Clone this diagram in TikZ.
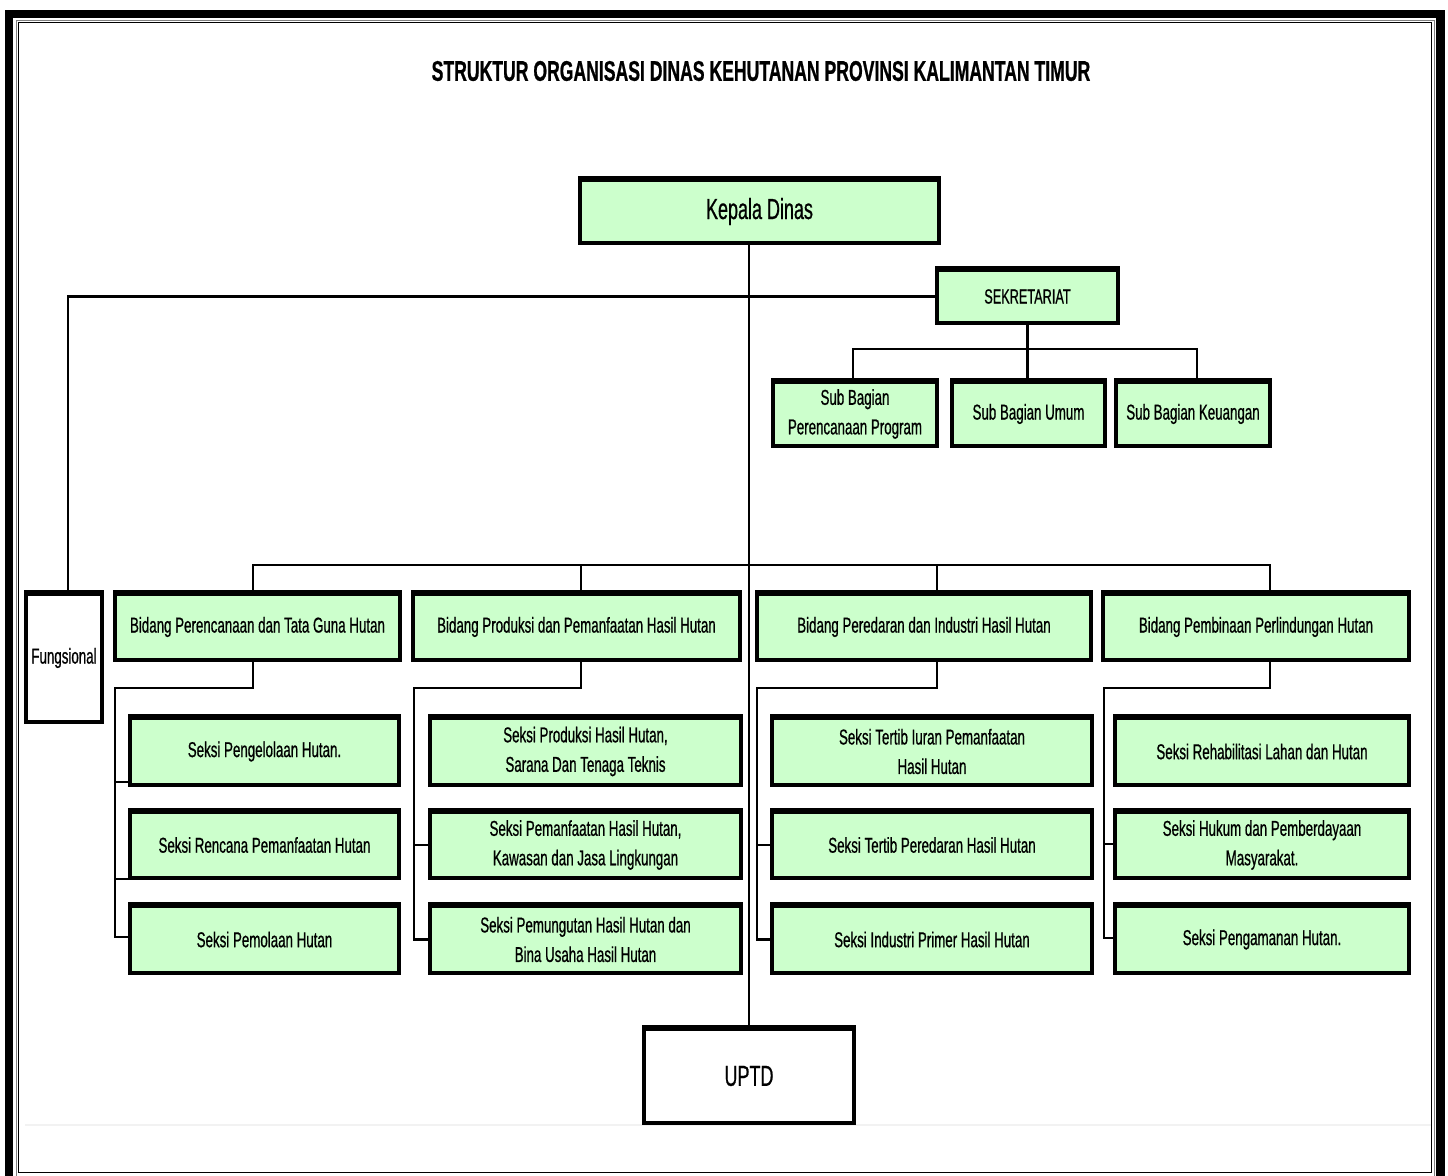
\documentclass[tikz,border=0pt]{standalone}
\usepackage{fontspec}
\setmainfont{Liberation Sans}[FakeStretch=0.62,FakeBold=0.7]
\definecolor{boxgreen}{HTML}{CCFFCC}
\begin{document}
\begin{tikzpicture}[x=1pt,y=-1pt,
  bx/.style={draw=black, line width=4, fill=boxgreen, inner sep=0, align=center,
    font=\fontsize{21.5}{29.5}\selectfont},
  wbx/.style={bx, fill=white},
  conn/.style={draw=black, line width=2.6},
  topedge/.style={line width=6.5, line cap=butt},
  ttl/.style={font=\fontsize{28.4}{31}\selectfont\bfseries, inner sep=0}]
\useasboundingbox (0,0) rectangle (1448,1175);
% frame
\draw[line width=8.5] (9,14) rectangle (1440.5,1195);
\draw[gray, line width=1] (16,20) rectangle (1434,1176);
\draw[black, line width=1.6] (18.5,22.5) rectangle (1431.5,1172.5);
\draw[black!5, line width=2] (25,1125) -- (1431,1125);
% title
\node[ttl] (title) at (761,71) {STRUKTUR ORGANISASI DINAS KEHUTANAN PROVINSI KALIMANTAN TIMUR};
% top
\node[bx, minimum width=359, minimum height=63, font=\fontsize{29}{32}\selectfont] (kd) at (759.5,211.5) {Kepala Dinas};
\node[wbx, minimum width=210, minimum height=94, font=\fontsize{29}{32}\selectfont] (uptd) at (749,1076) {UPTD};
\node[bx, minimum width=181, minimum height=53, font=\fontsize{20.5}{24}\selectfont] (sek) at (1027.5,296.5) {SEKRETARIAT};
\node[bx, minimum width=164, minimum height=64] (sb1) at (855,414) {Sub Bagian\\Perencanaan Program};
\node[bx, minimum width=153, minimum height=64] (sb2) at (1028.5,414) {Sub Bagian Umum};
\node[bx, minimum width=154, minimum height=64] (sb3) at (1193,414) {Sub Bagian Keuangan};
% bidang
\node[wbx, minimum width=76, minimum height=128] (fung) at (64,658) {Fungsional};
\node[bx, minimum width=285, minimum height=66] (b1) at (257.5,627) {Bidang Perencanaan dan Tata Guna Hutan};
\node[bx, minimum width=327, minimum height=66] (b2) at (576.5,627) {Bidang Produksi dan Pemanfaatan Hasil Hutan};
\node[bx, minimum width=334, minimum height=66] (b3) at (924,627) {Bidang Peredaran dan Industri Hasil Hutan};
\node[bx, minimum width=306, minimum height=66] (b4) at (1256,627) {Bidang Pembinaan Perlindungan Hutan};
% seksi col 1
\node[bx, minimum width=269, minimum height=67] (s11) at (264.5,751.5) {Seksi Pengelolaan Hutan.};
\node[bx, minimum width=269, minimum height=66] (s12) at (264.5,845) {Seksi Rencana Pemanfaatan Hutan};
\node[bx, minimum width=269, minimum height=67] (s13) at (264.5,939.5) {Seksi Pemolaan Hutan};
% col 2
\node[bx, minimum width=311, minimum height=67] (s21) at (585.5,751.5) {Seksi Produksi Hasil Hutan,\\Sarana Dan Tenaga Teknis};
\node[bx, minimum width=311, minimum height=66] (s22) at (585.5,845) {Seksi Pemanfaatan Hasil Hutan,\\Kawasan dan Jasa Lingkungan};
\node[bx, minimum width=311, minimum height=67] (s23) at (585.5,939.5) {Seksi Pemungutan Hasil Hutan dan\\Bina Usaha Hasil Hutan};
% col 3
\node[bx, minimum width=320, minimum height=67] (s31) at (932,751.5) {Seksi Tertib Iuran Pemanfaatan\\Hasil Hutan};
\node[bx, minimum width=320, minimum height=66] (s32) at (932,845) {Seksi Tertib Peredaran Hasil Hutan};
\node[bx, minimum width=320, minimum height=67] (s33) at (932,939.5) {Seksi Industri Primer Hasil Hutan};
% col 4
\node[bx, minimum width=294, minimum height=67] (s41) at (1262,751.5) {Seksi Rehabilitasi Lahan dan Hutan};
\node[bx, minimum width=294, minimum height=66] (s42) at (1262,845) {Seksi Hukum dan Pemberdayaan\\Masyarakat.};
\node[bx, minimum width=294, minimum height=67] (s43) at (1262,939.5) {Seksi Pengamanan Hutan.};
% thicker top edges
\foreach \n in {kd,uptd,sek,sb1,sb2,sb3,fung,b1,b2,b3,b4,s11,s12,s13,s21,s22,s23,s31,s32,s33,s41,s42,s43}
  \draw[topedge] ([yshift=-1]\n.north west) -- ([yshift=-1]\n.north east);
% coordinates
\coordinate (bus) at (749,565);
\coordinate (sbus) at (1028,349);
\coordinate (c1) at (115,688);
\coordinate (c2) at (414,688);
\coordinate (c3) at (757,688);
\coordinate (c4) at (1104,688);
% connectors
\draw[conn] (uptd.north |- kd.south) -- (uptd.north);
\draw[conn] (sek.west) -| ([xshift=4]fung.north);
\draw[conn] (sek.south) -- (sek.south |- sb2.north);
\draw[conn] ([xshift=-2]sb1.north) |- (sbus) -| ([xshift=4]sb3.north);
\draw[conn] ([xshift=-4.5]b1.north) |- (bus) -| ([xshift=14]b4.north);
\draw[conn] ([xshift=4.5]b2.north) -- ([xshift=4.5]b2.north |- bus);
\draw[conn] ([xshift=13]b3.north) -- ([xshift=13]b3.north |- bus);
% column connectors
\draw[conn] ([xshift=-4.5]b1.south) |- (c1) |- ([yshift=2.5]s13.west);
\draw[conn] ([yshift=5]s11.south west) -| (c1);
\draw[conn] ([yshift=1]s12.south west) -| (c1);
\draw[conn] ([xshift=4.5]b2.south) |- (c2) |- (s23.west);
\draw[conn] (s22.west) -| (c2);
\draw[conn] ([xshift=13]b3.south) |- (c3) |- (s33.west);
\draw[conn] (s32.west) -| (c3);
\draw[conn] ([xshift=14]b4.south) |- (c4) |- ([yshift=1.5]s43.west);
\draw[conn] ([yshift=1]s42.west) -| (c4);
\end{tikzpicture}
\end{document}
